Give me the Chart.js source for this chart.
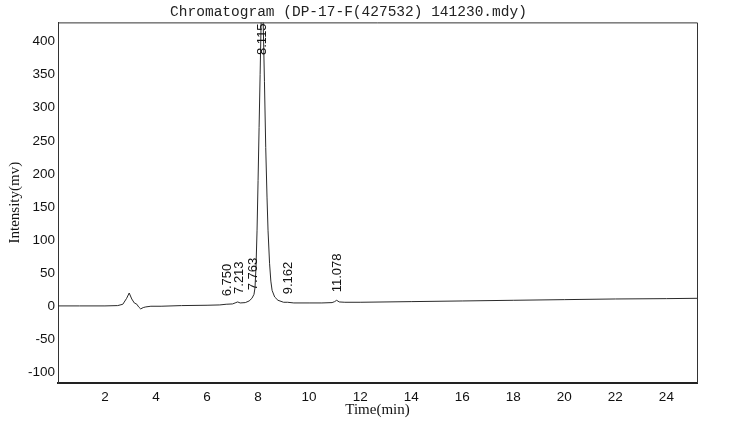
<!DOCTYPE html>
<html lang="en">
<head>
  <meta charset="UTF-8" />
  <title>Chromatogram</title>
  <style>
    body {
      margin: 0;
      padding: 0;
      background: #fff;
    }
    .wrap {
      width: 738px;
      height: 424px;
    }
  </style>
</head>
<body>
  <div class="wrap">
    <canvas id="grafico" width="738" height="424"></canvas>
  </div>

  <script src="https://cdn.jsdelivr.net/npm/chart.js"></script>
  <script>
    // trace (time in min, intensity in mv)
    const tiempos = [0.15, 1.0, 2.0, 2.5, 2.7, 2.85, 2.95, 3.05, 3.15, 3.25, 3.32, 3.4, 3.5, 3.6, 3.8, 4.2, 5.0, 6.0, 6.5, 6.75,
      7.0, 7.1, 7.2, 7.3, 7.5, 7.65, 7.76, 7.84, 7.88, 7.92, 7.96, 8.0, 8.04, 8.08, 8.12, 8.16, 8.2, 8.25, 8.3, 8.35,
      8.39, 8.45, 8.5, 8.55, 8.65, 8.78, 9.0, 9.16, 9.4, 10.0, 10.5, 10.9, 11.0, 11.08, 11.18, 11.4, 12, 14, 16, 18,
      20, 22, 24, 25.2];
    const intensidad = [0.5, 0.5, 0.5, 1, 3, 12, 20, 11, 5, 3, -1, -4, -2, -1, 0, 0, 1, 1.5, 2, 3,
      3.5, 5, 6.5, 5, 5.5, 8, 12, 18, 28, 60, 115, 190, 270, 350, 430, 460, 430, 340, 240, 165,
      115, 65, 38, 24, 14, 9, 6, 6, 5, 5, 5, 5.5, 7, 9, 6.5, 6, 6, 7, 8, 9,
      10, 11, 11.5, 12];

    // peak annotations
    const picosTiempo = [6.750, 7.213, 7.763, 8.115, 9.162, 11.078];
    const picosAltura = [3, 6.5, 12, 460, 6, 9];
    const picosTexto = ['6.750', '7.213', '7.763', '8.115', '9.162', '11.078'];

    const xTicks = [2, 4, 6, 8, 10, 12, 14, 16, 18, 20, 22, 24];
    const yTicks = [-100, -50, 0, 50, 100, 150, 200, 250, 300, 350, 400];

    const puntos = tiempos.map((t, i) => ({ x: t, y: intensidad[i] }));

    const marco = {
      id: 'marco',
      afterDatasetsDraw(chart) {
        const { ctx, chartArea: a, scales } = chart;
        ctx.save();
        ctx.strokeStyle = '#333';
        ctx.lineWidth = 1;
        ctx.beginPath();
        ctx.moveTo(a.left, a.top + 0.5);
        ctx.lineTo(a.right + 0.5, a.top + 0.5);
        ctx.lineTo(a.right + 0.5, a.bottom);
        ctx.stroke();

        // peak labels, rotated
        ctx.fillStyle = '#111';
        ctx.font = '13px "Liberation Sans", Arial, sans-serif';
        ctx.textBaseline = 'middle';
        ctx.textAlign = 'left';
        picosTiempo.forEach((t, i) => {
          const px = scales.x.getPixelForValue(t) + 1;
          const w = ctx.measureText(picosTexto[i]).width;
          let py = scales.y.getPixelForValue(picosAltura[i]) - 8;
          py = Math.max(py, a.top + w + 1);
          ctx.save();
          ctx.translate(px, py);
          ctx.rotate(-Math.PI / 2);
          ctx.fillText(picosTexto[i], 0, 0);
          ctx.restore();
        });
        ctx.restore();
      }
    };

    new Chart(document.getElementById('grafico').getContext('2d'), {
      type: 'line',
      data: {
        datasets: [{
          data: puntos,
          borderColor: '#2a2a2a',
          borderWidth: 1,
          pointRadius: 0,
          tension: 0,
          fill: false
        }]
      },
      options: {
        responsive: false,
        animation: false,
        layout: { padding: { left: 0, right: 41, top: 0, bottom: 0 } },
        plugins: {
          legend: { display: false },
          tooltip: { enabled: false },
          title: {
            display: true,
            text: 'Chromatogram (DP-17-F(427532) 141230.mdy)',
            color: '#222',
            font: { family: '"Liberation Mono", "DejaVu Sans Mono", monospace', size: 14.5, weight: 'normal', lineHeight: 1.2 },
            padding: { top: 3, bottom: 2 }
          }
        },
        scales: {
          x: {
            type: 'linear',
            min: 0.16,
            max: 25.2,
            grid: { display: false, drawTicks: false },
            border: { display: true, color: '#222', width: 2 },
            afterBuildTicks: s => { s.ticks = xTicks.map(v => ({ value: v })); },
            afterFit: s => { s.height = 41; },
            ticks: {
              padding: 6,
              color: '#111',
              maxRotation: 0,
              font: { family: '"Liberation Sans", Arial, sans-serif', size: 13.5 }
            },
            title: {
              display: true,
              text: 'Time(min)',
              color: '#111',
              font: { family: '"Liberation Serif", "Times New Roman", serif', size: 15, lineHeight: 1.2 },
              padding: { top: 0, bottom: 5 }
            }
          },
          y: {
            min: -116,
            max: 429,
            grid: { display: false, drawTicks: false },
            border: { display: true, color: '#333', width: 1 },
            afterBuildTicks: s => { s.ticks = yTicks.map(v => ({ value: v })); },
            afterFit: s => { s.width = 58; },
            ticks: {
              padding: 3,
              color: '#111',
              font: { family: '"Liberation Sans", Arial, sans-serif', size: 13.5 }
            },
            title: {
              display: true,
              text: 'Intensity(mv)',
              color: '#111',
              font: { family: '"Liberation Serif", "Times New Roman", serif', size: 15, lineHeight: 1.2 },
              padding: { top: 6, bottom: 0 }
            }
          }
        }
      },
      plugins: [marco]
    });
  </script>
</body>
</html>
